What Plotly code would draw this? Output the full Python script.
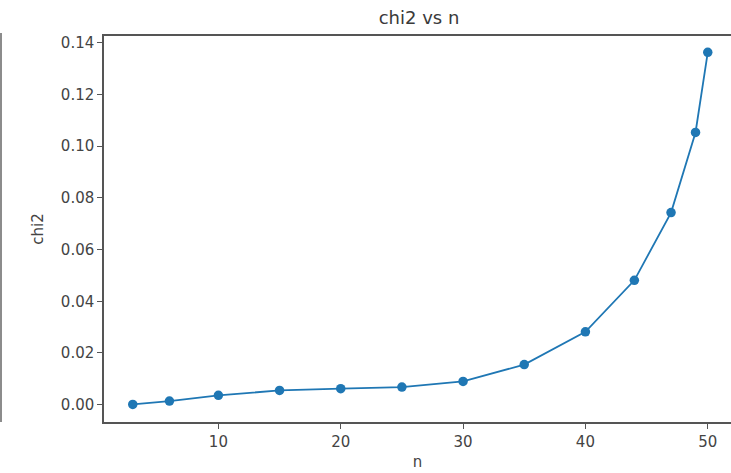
import plotly.graph_objects as go

n_values = [3, 6, 10, 15, 20, 25, 30, 35, 40, 44, 47, 49, 50]
chi2_values = [0.0001, 0.0014, 0.0036, 0.0055, 0.0062, 0.0068, 0.0090,
               0.0155, 0.0282, 0.0481, 0.0743, 0.1053, 0.1363]
x_ticks = [10, 20, 30, 40, 50]
y_ticks = [0.00, 0.02, 0.04, 0.06, 0.08, 0.10, 0.12, 0.14]

fig = go.Figure()
fig.add_trace(go.Scatter(
    x=n_values, y=chi2_values, mode="lines+markers",
    line=dict(color="#1f77b4", width=1.8),
    marker=dict(color="#1f77b4", size=9.5),
    showlegend=False,
))

axis_common = dict(
    showline=True, linecolor="#555555", linewidth=1.5,
    ticks="outside", ticklen=5, tickwidth=1, tickcolor="#555555",
    showgrid=False, zeroline=False,
    tickfont=dict(family="DejaVu Sans", size=15, color="#444444"),
)

fig.update_layout(
    width=731, height=473,
    margin=dict(l=104, r=0, t=36, b=51),
    paper_bgcolor="white", plot_bgcolor="white",
    title=dict(text="chi2 vs n", x=419 / 731, xanchor="center",
               y=1 - 18 / 473, yanchor="middle",
               font=dict(family="DejaVu Sans", size=18, color="#3a3a3a")),
    xaxis=dict(range=[0.65, 51.9], tickvals=x_ticks, ticktext=[str(t) for t in x_ticks],
               mirror=True,
               title=dict(text="n", standoff=7,
                          font=dict(family="DejaVu Sans", size=15, color="#444444")),
               **axis_common),
    yaxis=dict(range=[-0.0067, 0.1426], tickvals=y_ticks,
               ticktext=[f"{t:.2f}" for t in y_ticks],
               mirror=False,
               title=dict(text="chi2", standoff=14,
                          font=dict(family="DejaVu Sans", size=15, color="#444444")),
               **axis_common),
    shapes=[dict(type="line", xref="paper", yref="paper",
                 x0=(1 - 104) / (731 - 104), x1=(1 - 104) / (731 - 104),
                 y0=0, y1=(422 - 33) / 386,
                 line=dict(color="#666666", width=1.5))],
)

fig.write_html("out.html")
